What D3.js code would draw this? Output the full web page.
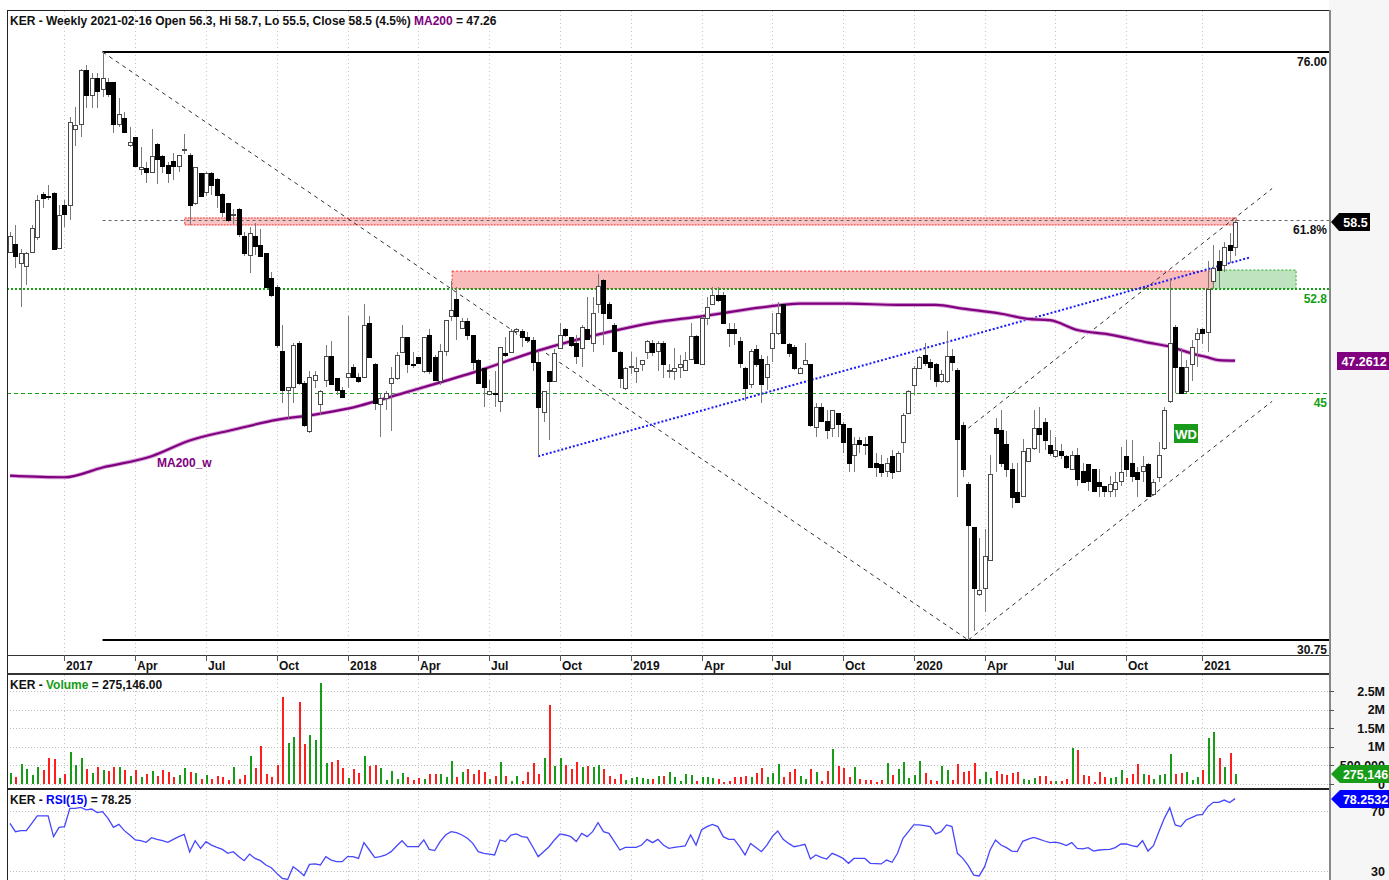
<!DOCTYPE html>
<html><head><meta charset="utf-8">
<script src="https://cdn.jsdelivr.net/npm/d3@7"></script>
<style>
body{margin:0;background:#fff;}
svg text{font-family:"Liberation Sans",Arial,sans-serif;font-weight:bold;}
</style></head><body>
<svg id="c" width="1389" height="880"></svg>
<script>
// ---------- DATA ----------
const startWeek = "2016-10-24";
const opens = [55.9,56.6,54.9,54.7,55.9,57.2,61.1,60.9,61.2,56.2,
60.1,60.1,67.5,68.0,73.9,71.1,73.0,71.8,72.6,72.6,
68.0,68.7,65.9,66.7,63.5,63.6,63.2,66.0,64.8,63.9,
64.3,63.8,65.4,64.9,60.2,63.1,61.3,63.1,62.5,61.1,
60.2,59.1,59.7,57.3,55.6,57.3,56.5,55.8,53.7,52.9,
48.0,45.2,45.4,48.6,45.7,42.4,45.9,44.2,45.9,47.6,
46.0,45.2,46.1,46.8,46.1,46.1,50.1,47.0,44.2,44.6,
45.7,46.0,47.9,49.0,47.0,47.5,46.5,49.2,47.5,45.8,
48.0,50.6,52.0,49.7,50.2,49.2,47.3,46.7,44.9,45.0,
44.4,47.8,47.9,49.5,49.5,49.0,48.8,47.2,43.7,46.5,
45.8,48.2,49.6,49.0,48.6,48.2,49.6,48.6,51.6,53.5,
51.6,49.9,47.9,45.3,46.8,46.5,47.0,47.9,48.6,48.0,
48.6,46.5,46.5,46.8,46.6,47.4,49.1,47.0,50.5,51.6,
52.3,52.3,49.6,49.6,48.7,46.7,45.6,48.1,47.4,46.1,
48.2,49.3,51.6,48.5,48.3,46.4,47.0,47.0,42.7,44.0,
43.1,42.6,43.6,42.9,42.6,40.9,41.8,41.6,42.1,40.4,
40.3,39.9,40.8,39.9,41.7,43.6,45.5,46.7,47.7,47.2,
47.0,45.8,45.8,47.6,46.6,42.8,39.1,36.6,33.0,33.3,
34.8,42.6,42.5,41.6,40.0,38.6,38.4,40.5,41.3,42.6,
43.0,41.5,40.8,41.1,40.8,40.0,40.9,39.9,40.3,40.0,
39.2,39.0,38.7,38.8,39.3,40.8,40.4,39.8,39.9,40.3,
38.5,39.5,41.3,44.4,49.8,46.8,45.1,47.0,48.9,49.6,
49.4,53.4,55.1,54.8,56.5,56.3];
const highs = [57.6,58.2,56.1,55.9,58.2,61.0,61.3,61.9,61.3,60.1,
60.5,68.8,69.8,74.0,74.5,73.6,73.6,76.0,73.0,72.6,
70.8,69.3,67.7,66.7,65.7,64.2,67.5,66.1,64.9,64.2,
65.1,64.9,67.0,65.1,63.7,63.1,63.2,63.2,62.6,61.2,
60.2,59.7,59.8,57.6,58.1,58.4,57.9,55.8,54.2,53.1,
49.9,45.4,48.6,48.7,45.8,46.5,46.5,45.2,48.4,48.7,
46.0,45.4,50.6,47.0,46.4,51.6,50.6,47.1,45.0,45.1,
46.8,47.9,49.9,49.0,47.9,47.5,49.0,49.6,47.7,48.5,
50.3,53.4,52.9,50.5,50.5,49.2,47.4,46.8,45.9,46.5,
48.3,49.0,49.6,49.7,49.6,49.4,49.0,48.0,45.1,46.5,
48.1,50.1,49.7,49.0,49.2,49.9,52.1,52.1,54.0,53.6,
51.7,50.1,48.0,46.8,47.9,47.5,47.3,48.8,48.8,48.7,
48.7,47.0,48.2,47.7,47.9,50.1,49.2,50.6,52.1,52.9,
52.9,52.5,50.1,50.1,49.0,46.8,48.1,48.4,47.7,47.6,
50.9,51.7,51.6,48.6,48.4,46.8,48.6,47.0,44.3,44.3,
43.8,43.8,43.6,43.0,42.6,42.0,42.0,42.0,42.1,41.0,
40.9,40.7,41.2,41.1,43.6,45.2,46.9,47.6,48.6,47.4,
47.1,46.6,49.5,48.1,46.7,43.0,39.2,36.6,36.0,36.5,
40.9,43.3,43.8,42.4,40.4,40.4,41.9,41.3,43.8,44.0,
43.3,42.5,42.0,41.6,40.9,41.1,41.3,40.4,40.3,40.0,
40.0,39.0,39.6,39.8,41.4,41.8,41.8,40.1,40.8,40.4,
39.4,41.7,44.0,53.7,49.9,48.2,47.3,48.8,49.7,49.7,
55.1,56.5,56.0,56.7,57.5,58.7];
const lows = [55.8,54.5,51.3,53.1,55.8,56.9,59.8,60.5,56.0,56.1,
58.1,58.7,65.8,66.7,69.7,69.7,69.7,70.9,70.9,67.1,
67.7,67.1,65.7,63.7,62.9,62.1,63.1,62.0,63.1,62.1,
62.4,63.2,65.0,58.2,60.1,60.8,60.9,61.0,59.8,59.0,
58.5,58.3,57.2,55.5,54.1,55.6,55.4,52.9,52.1,48.2,
44.3,43.2,44.3,45.5,42.7,42.3,45.3,43.5,45.4,45.6,
44.8,44.6,45.3,46.0,45.7,46.0,47.5,43.8,42.0,43.8,
42.4,45.9,47.9,46.4,46.7,47.0,46.4,46.3,45.8,45.5,
47.6,50.2,48.8,49.6,48.8,46.6,45.6,44.0,44.8,44.0,
43.7,47.5,47.8,49.2,48.3,48.6,46.5,40.8,43.0,41.8,
45.8,48.1,49.0,48.3,47.0,46.8,48.8,47.9,50.9,48.4,
50.4,47.9,45.3,45.2,46.3,45.7,46.5,47.4,47.6,46.5,
46.0,46.0,45.9,46.0,46.5,47.3,47.0,47.0,49.9,51.5,
51.7,50.0,48.3,48.4,46.7,44.4,45.3,46.8,44.3,45.2,
47.2,49.2,48.6,47.5,46.6,46.3,47.0,42.7,42.0,43.0,
41.9,42.0,42.0,41.0,39.8,39.8,41.0,40.9,40.1,39.5,
39.5,39.5,39.4,39.8,41.0,43.6,44.8,46.7,46.9,45.9,
45.4,45.7,45.7,46.5,38.3,39.5,30.75,31.2,32.9,32.1,
34.8,39.8,40.1,39.5,37.7,38.0,38.4,40.5,41.2,41.0,
41.2,40.8,40.7,40.6,40.0,40.0,39.0,39.2,38.7,38.6,
38.3,38.3,38.3,38.3,39.0,39.5,39.2,38.3,39.2,38.3,
38.4,39.2,41.2,44.3,45.0,45.0,45.0,45.8,46.8,48.5,
47.9,52.9,52.8,54.2,54.9,55.5];
const closes = [57.3,55.5,55.8,55.8,58.0,60.5,60.7,60.8,56.1,59.1,
59.2,68.2,67.9,73.9,71.1,73.0,71.6,73.0,71.2,68.0,
69.1,67.2,66.2,63.8,63.7,63.2,64.8,64.5,63.8,63.1,
63.8,64.9,65.5,60.1,63.7,60.9,63.1,61.9,61.0,59.4,
58.7,59.2,57.4,55.8,57.5,56.4,55.5,52.9,52.3,48.4,
45.2,45.4,48.4,45.7,42.8,46.1,46.2,45.1,47.6,45.6,
45.2,44.7,46.4,46.1,45.8,49.9,47.5,44.3,44.6,45.0,
46.0,47.7,49.0,47.0,47.0,47.1,49.0,46.5,45.9,48.0,
50.3,51.1,50.6,50.2,49.2,47.2,45.7,45.4,45.1,45.0,
48.3,47.7,49.5,49.6,49.0,48.8,47.2,44.0,45.1,45.8,
47.8,49.2,49.2,48.4,47.6,49.8,48.9,50.9,53.0,50.9,
50.5,48.0,46.0,46.7,46.9,46.7,47.3,48.7,47.9,48.6,
47.0,46.6,46.7,47.0,47.3,49.1,47.1,50.5,51.3,52.3,
51.9,50.1,49.3,49.3,47.1,45.3,48.0,47.0,45.6,47.0,
49.3,50.9,48.6,47.8,46.7,46.7,47.3,42.8,44.0,43.1,
42.5,43.8,42.9,41.7,40.4,41.6,41.6,41.5,40.1,40.1,
39.8,40.4,39.8,41.0,43.5,45.1,46.7,47.5,47.1,46.8,
45.8,46.3,47.6,47.2,41.9,40.0,36.7,33.3,33.2,35.0,
39.7,42.3,40.4,40.0,38.3,38.0,41.1,41.3,42.6,42.2,
41.8,41.0,41.2,40.9,40.1,40.9,39.4,39.2,39.3,38.7,
39.0,38.7,39.1,39.2,39.8,40.0,39.6,39.4,40.2,38.4,
39.2,40.9,43.8,48.6,46.8,45.0,46.8,48.3,49.3,49.3,
52.8,54.5,54.3,56.3,56.0,58.5];
// weekly volume, millions of shares
const volumesM = [0.287,0.197,0.529,0.394,0.242,0.448,0.376,0.690,0.663,0.152,
0.269,0.869,0.511,0.690,0.394,0.287,0.457,0.367,0.349,0.448,
0.448,0.376,0.224,0.376,0.188,0.260,0.340,0.224,0.367,0.332,
0.188,0.242,0.421,0.323,0.287,0.134,0.242,0.134,0.224,0.197,
0.108,0.448,0.134,0.242,0.762,0.421,1.022,0.260,0.188,0.511,
2.339,1.102,1.263,2.213,1.075,1.317,1.174,2.706,0.556,0.600,
0.654,0.421,0.170,0.403,0.305,0.762,0.484,0.511,0.421,0.108,
0.340,0.134,0.287,0.197,0.108,0.152,0.134,0.269,0.269,0.269,
0.197,0.609,0.197,0.332,0.403,0.260,0.367,0.314,0.134,0.215,
0.582,0.215,0.081,0.215,0.081,0.314,0.556,0.269,0.690,2.124,
0.484,0.708,0.511,0.403,0.600,0.457,0.484,0.457,0.511,0.394,
0.224,0.134,0.269,0.108,0.152,0.197,0.152,0.134,0.134,0.215,
0.215,0.314,0.197,0.081,0.260,0.250,0.081,0.188,0.188,0.170,
0.134,0.063,0.081,0.188,0.188,0.215,0.188,0.296,0.421,0.188,
0.287,0.529,0.188,0.323,0.394,0.206,0.134,0.394,0.314,0.081,
0.340,0.941,0.475,0.421,0.188,0.448,0.134,0.108,0.108,0.045,
0.108,0.556,0.242,0.394,0.582,0.161,0.242,0.627,0.287,0.108,
0.081,0.475,0.367,0.108,0.529,0.323,0.349,0.556,0.125,0.314,
0.152,0.340,0.260,0.242,0.287,0.314,0.134,0.099,0.152,0.206,
0.215,0.081,0.081,0.081,0.134,0.977,0.914,0.242,0.224,0.045,
0.314,0.188,0.170,0.188,0.385,0.170,0.269,0.529,0.269,0.242,
0.125,0.242,0.260,0.815,0.269,0.287,0.314,0.099,0.197,0.385,
1.228,1.389,0.690,0.457,0.833,0.275146];
const rsi15 = [61.8,56.2,56.9,56.9,61.8,66.7,66.7,66.7,52.9,59.1,
59.6,71.8,71.8,72.4,70.7,71.3,68.9,69.6,65.1,59.1,
61.1,56.9,54.0,50.7,50.2,49.1,52.2,51.1,50.2,49.1,
51.1,52.9,54.4,42.7,50.2,45.1,49.6,47.3,45.8,44.4,
41.8,42.9,39.6,36.9,41.3,38.4,36.9,34.0,32.2,28.4,
25.1,24.4,32.9,30.2,26.9,34.4,34.7,34.0,39.6,37.3,
36.2,36.2,39.6,39.6,38.4,48.9,44.0,38.9,39.6,40.7,
42.9,46.7,50.2,46.2,46.2,46.2,50.7,44.4,43.6,49.6,
54.0,56.2,55.6,54.0,51.8,48.4,42.9,41.8,41.3,40.7,
50.7,49.6,54.0,54.7,52.9,52.4,46.2,39.6,42.9,46.2,
50.7,54.7,54.0,52.9,49.6,55.1,52.9,56.2,62.2,56.2,
55.1,49.6,44.0,45.8,45.8,45.8,47.3,51.1,48.9,51.1,
47.3,45.1,45.8,46.2,46.7,54.0,47.3,57.3,59.6,61.1,
59.6,52.9,51.1,51.1,46.2,40.7,48.4,45.6,42.9,47.3,
52.9,56.7,51.1,48.4,46.2,46.9,47.8,38.0,40.7,39.1,
38.0,41.8,40.2,38.4,35.1,38.4,38.4,38.4,35.1,34.9,
34.7,37.3,35.8,41.8,51.8,56.2,60.7,60.7,60.2,59.6,
54.7,56.2,60.7,59.6,41.8,38.4,33.6,27.3,26.7,32.9,
44.0,50.7,47.3,45.6,43.3,42.9,49.8,51.3,52.4,51.3,
50.0,48.9,49.3,48.4,46.9,48.9,45.1,44.7,45.6,43.3,
44.0,44.2,44.4,45.6,48.0,48.0,46.9,46.2,50.2,43.3,
46.9,56.2,65.1,72.2,60.7,59.6,64.0,65.6,67.3,67.8,
72.9,75.8,75.8,77.3,75.6,78.2532];
// 200-week moving average, read at selected weeks (week index, value)
const maWeek = [0,10,17,26,33,41,49,56,62,73,85,97,110,118,127,138,145,154,163,170,175,182,187,191,196,202,209,213,217,220,222,225];
const maValue = [39.6,39.5,40.1,40.8,41.8,42.5,43.15,43.5,43.9,45.05,46.4,48.0,49.4,50.1,50.6,51.3,51.6,51.6,51.5,51.5,51.2,50.8,50.4,50.3,49.55,49.2,48.6,48.3,47.8,47.5,47.3,47.2612];
const tickDates = ["2017-01-02","2017-04-03","2017-07-03","2017-10-02","2018-01-01","2018-04-02","2018-07-02","2018-10-01","2018-12-31","2019-04-01","2019-07-01","2019-09-30","2019-12-30","2020-03-30","2020-06-29","2020-09-28","2021-01-04"];
const tickLabels = ["2017","Apr","Jul","Oct","2018","Apr","Jul","Oct","2019","Apr","Jul","Oct","2020","Apr","Jul","Oct","2021"];
const volTicks = [0,0.5,1,1.5,2,2.5];
const volTickLabels = ["0","500,000","1M","1.5M","2M","2.5M"];
const rsiTicks = [30,70];
// annotations: [week index, price]
const fibHigh = 76.00, fibLow = 30.75, fib618 = 58.71, lvl528 = 52.8, lvl45 = 45;
const trendDown = [[17,76.0],[176,30.75]];
const channelLow = [[176,30.75],[231.8,44.4]];
const channelHigh = [[176,42.6],[231.8,61.6]];
const blueTrend = [[97,40.8],[227.7,55.4]];
const redThinZone = {w0:32.1,w1:225.3,p0:58.24,p1:58.87};
const pinkZone = {w0:81.2,w1:221,p0:52.8,p1:54.25};
const greenZone = {w0:221,w1:236.2,p0:52.8,p1:54.34};

// ---------- SCALES ----------
const svg = d3.select("#c");
const n = closes.length;
const parse = d3.utcParse("%Y-%m-%d");
const d0 = parse(startWeek);
const WEEK = 7*864e5;
const dateAt = i => new Date(d0.getTime() + i*WEEK);
const dates = d3.range(n).map(dateAt);
const L = 7, R = 1329;
const x = d3.scaleUtc().domain([dates[0], dates[n-1]]).range([10, 1235.1]);
const xi = i => x(dateAt(i));
const y = d3.scaleLog().domain([fibLow, fibHigh]).range([640, 52]);
const yv = d3.scaleLinear().domain([0, 2.5]).range([784, 691]);
const yr = d3.scaleLinear().domain([30, 70]).range([871, 811]);
const GREEN = "#169c16", RED = "#ff1e1e", PURPLE = "#800080", BLUE = "#0000ff";

// ---------- BACKGROUND ----------
svg.append("rect").attr("x",0).attr("y",0).attr("width",1389).attr("height",880).attr("fill","#fff");
svg.append("rect").attr("x",R).attr("y",0).attr("width",1389-R).attr("height",880).attr("fill","#f6f6f6");

// vertical grid
const tickX = tickDates.map(d => Math.round(x(parse(d))) + 0.5);
[[11,655],[675,789],[791,880]].forEach(([a,b]) => {
  svg.append("g").selectAll("line").data(tickX).join("line")
    .attr("x1",d=>d).attr("x2",d=>d).attr("y1",a).attr("y2",b)
    .attr("stroke","#c4c4c4").attr("stroke-dasharray","1,3");
});
// volume grid
svg.append("g").selectAll("line").data(volTicks).join("line")
  .attr("x1",L).attr("x2",R).attr("y1",d=>Math.round(yv(d))+0.5).attr("y2",d=>Math.round(yv(d))+0.5)
  .attr("stroke","#bdbdbd").attr("stroke-dasharray","1,2");
svg.append("g").selectAll("line").data(rsiTicks).join("line")
  .attr("x1",L).attr("x2",R).attr("y1",d=>Math.round(yr(d))+0.5).attr("y2",d=>Math.round(yr(d))+0.5)
  .attr("stroke","#bdbdbd").attr("stroke-dasharray","1,2");

// ---------- ZONES ----------
function zone(z, fill, stroke, dash){
  svg.append("rect").attr("x",xi(z.w0)).attr("width",xi(z.w1)-xi(z.w0))
    .attr("y",y(z.p1)).attr("height",y(z.p0)-y(z.p1))
    .attr("fill",fill).attr("stroke",stroke).attr("stroke-dasharray",dash).attr("stroke-width",1);
}
zone(pinkZone, "#f9baba", "#f03030", "2,2");
zone(redThinZone, "#fbc4c4", "#f03030", "2,1");
zone(greenZone, "#bfe3bf", "#22aa22", "2,2");

// ---------- LEVEL LINES ----------
function hline(p, x0, color, w, dash){
  const yy = Math.round(y(p)) + (w%2 ? 0.5 : 0);
  svg.append("line").attr("x1",x0).attr("x2",R).attr("y1",yy).attr("y2",yy)
    .attr("stroke",color).attr("stroke-width",w).attr("stroke-dasharray",dash||null);
}
hline(lvl528, L, "#14a014", 2, "2,2");
hline(lvl45, L, "#14a014", 1, "4,3");
hline(fib618, xi(17), "#666", 1, "3,3");
hline(fibHigh, xi(17), "#000", 2);
hline(fibLow, xi(17), "#000", 2);

const seg = d3.line().x(d=>xi(d[0])).y(d=>y(d[1]));
[trendDown, channelLow, channelHigh].forEach(s =>
  svg.append("path").attr("d",seg(s)).attr("fill","none").attr("stroke","#333").attr("stroke-width",1).attr("stroke-dasharray","4,4"));
svg.append("path").attr("d",seg(blueTrend)).attr("fill","none").attr("stroke","#1a1aff").attr("stroke-width",2).attr("stroke-dasharray","2,2");

// ---------- MA200 ----------
const maLine = d3.line().curve(d3.curveMonotoneX).x((d,i)=>xi(maWeek[i])).y(d=>y(d));
svg.append("path").attr("d",maLine(maValue)).attr("fill","none").attr("stroke","#d9a6d9").attr("stroke-width",4);
svg.append("path").attr("d",maLine(maValue)).attr("fill","none").attr("stroke",PURPLE).attr("stroke-width",2.2);

// ---------- CANDLES ----------
const cg = svg.append("g").attr("shape-rendering","crispEdges");
d3.range(n).forEach(i => {
  const cx = Math.round(xi(i));
  const o = opens[i], c = closes[i], h = highs[i], l = lows[i];
  const up = c > o;
  cg.append("line").attr("x1",cx+0.5).attr("x2",cx+0.5).attr("y1",y(h)).attr("y2",y(l))
    .attr("stroke","#7a7a7a").attr("stroke-width",1);
  const top = Math.round(y(Math.max(o,c))), bot = Math.round(y(Math.min(o,c)));
  cg.append("rect").attr("x",cx-1.5).attr("y",top+0.5).attr("width",4).attr("height",Math.max(1,bot-top))
    .attr("fill", up ? "#fff" : "#000").attr("stroke", up ? "#4a4a4a" : "#000").attr("stroke-width",1);
});

// ---------- VOLUME ----------
svg.append("g").attr("shape-rendering","crispEdges").selectAll("rect").data(volumesM).join("rect")
  .attr("x",(d,i)=>Math.round(xi(i))-0.5).attr("width",2)
  .attr("y",d=>yv(d)).attr("height",d=>yv(0)-yv(d))
  .attr("fill",(d,i)=>closes[i] > opens[i] ? GREEN : RED);

// ---------- RSI ----------
svg.append("path").attr("d", d3.line().x((d,i)=>xi(i)).y(d=>yr(d))(rsi15))
  .attr("fill","none").attr("stroke","#4646ff").attr("stroke-width",1.3);

// ---------- FRAME / AXES ----------
const frame = svg.append("g").attr("shape-rendering","crispEdges");
frame.append("line").attr("x1",L).attr("x2",R).attr("y1",10.5).attr("y2",10.5).attr("stroke","#222");
frame.append("line").attr("x1",L+0.5).attr("x2",L+0.5).attr("y1",10).attr("y2",880).attr("stroke","#222");
frame.append("line").attr("x1",R+0.5).attr("x2",R+0.5).attr("y1",10).attr("y2",880).attr("stroke","#888").attr("stroke-width",2);
frame.append("line").attr("x1",L).attr("x2",R).attr("y1",655.5).attr("y2",655.5).attr("stroke","#333");
frame.append("line").attr("x1",L).attr("x2",R).attr("y1",674).attr("y2",674).attr("stroke","#333").attr("stroke-width",2);
frame.append("line").attr("x1",L).attr("x2",R).attr("y1",789).attr("y2",789).attr("stroke","#222").attr("stroke-width",2);
frame.selectAll("line.tk").data(tickX).join("line").attr("class","tk")
  .attr("x1",d=>d).attr("x2",d=>d).attr("y1",655).attr("y2",661).attr("stroke","#555");
svg.append("g").selectAll("text").data(tickLabels).join("text")
  .attr("x",(d,i)=>tickX[i]+1.5).attr("y",670).attr("font-size",12).attr("fill","#111").text(d=>d);

// volume axis labels
svg.append("g").selectAll("text").data(volTickLabels).join("text")
  .attr("x",1385).attr("y",(d,i)=>yv(volTicks[i])+4.5).attr("text-anchor","end")
  .attr("font-size",12.5).attr("fill","#111").text(d=>d);
frame.selectAll("line.vt").data(volTicks).join("line").attr("class","vt")
  .attr("x1",R).attr("x2",R+5).attr("y1",d=>Math.round(yv(d))+0.5).attr("y2",d=>Math.round(yv(d))+0.5).attr("stroke","#555");
svg.append("g").selectAll("text").data(rsiTicks).join("text")
  .attr("x",1385).attr("y",d=>yr(d)+4.5).attr("text-anchor","end")
  .attr("font-size",12.5).attr("fill","#111").text(d=>d);

// ---------- IN-PLOT LABELS ----------
function rlabel(txt, p, color, dy){
  svg.append("text").attr("x",R-2).attr("y",y(p)+dy).attr("text-anchor","end")
    .attr("font-size",12).attr("fill",color).text(txt);
}
rlabel("76.00", fibHigh, "#111", 14);
rlabel("61.8%", fib618, "#111", 14);
rlabel("52.8", lvl528, "#14a014", 14);
rlabel("45", lvl45, "#14a014", 14);
rlabel("30.75", fibLow, "#111", 14);
svg.append("text").attr("x",157).attr("y",467).attr("font-size",12).attr("fill",PURPLE).text("MA200_w");
svg.append("rect").attr("x",1174).attr("y",424).attr("width",24).attr("height",19).attr("fill","#1a9a1a");
svg.append("text").attr("x",1186).attr("y",438.5).attr("text-anchor","middle").attr("font-size",13).attr("fill","#fff").text("WD");

// ---------- RIGHT VALUE TAGS ----------
function tag(txt, yy, fill, x0, x1, arrow){
  const h = 9;
  const path = arrow
    ? `M${R+2},${yy} L${x0},${yy-h} L${x1},${yy-h} L${x1},${yy+h} L${x0},${yy+h} Z`
    : `M${x0},${yy-h} L${x1},${yy-h} L${x1},${yy+h} L${x0},${yy+h} Z`;
  svg.append("path").attr("d",path).attr("fill",fill);
  svg.append("text").attr("x",(x0+x1)/2+1).attr("y",yy+4.5).attr("text-anchor","middle")
    .attr("font-size",12.5).attr("fill","#fff").text(txt);
}
const last = n-1;
tag(d3.format(".1f")(closes[last]), Math.round(y(closes[last])), "#000", 1339, 1370, true);
tag(d3.format(".4f")(maValue[maValue.length-1]), Math.round(y(maValue[maValue.length-1])), PURPLE, 1337, 1389, false);
tag(d3.format(",")(Math.round(volumesM[last]*1e6)), Math.round(yv(volumesM[last])), GREEN, 1340, 1389, true);
tag(d3.format(".4f")(rsi15[last]), Math.round(yr(rsi15[last])), BLUE, 1340, 1389, true);

// ---------- HEADERS ----------
function header(yy, parts){
  const t = svg.append("text").attr("x",10).attr("y",yy).attr("font-size",12);
  parts.forEach(([s,c]) => t.append("tspan").attr("fill",c).text(s));
}
const chg = (closes[last]/closes[last-1]-1)*100;
header(25, [[`KER - Weekly 2021-02-16 Open ${opens[last]}, Hi ${highs[last]}, Lo ${lows[last]}, Close ${closes[last]} (${chg.toFixed(1)}%) `,"#111"],["MA200",PURPLE],[` = ${maValue[maValue.length-1].toFixed(2)}`,"#111"]]);
header(689, [["KER - ","#111"],["Volume",GREEN],[` = ${d3.format(",.2f")(volumesM[last]*1e6)}`,"#111"]]);
header(804, [["KER - ","#111"],["RSI(15)",BLUE],[` = ${rsi15[last].toFixed(2)}`,"#111"]]);
</script>
</body></html>
